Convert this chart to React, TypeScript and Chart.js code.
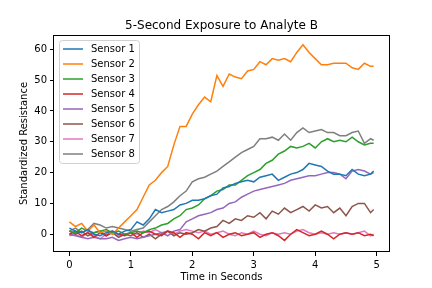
import { useEffect, useRef } from "react";
import { Chart, registerables } from "chart.js";

Chart.register(...registerables);

const TITLE = "5-Second Exposure to Analyte B";
const X_LABEL = "Time in Seconds";
const Y_LABEL = "Standardized Resistance";
const X_TICKS = [0, 1, 2, 3, 4, 5];
const Y_TICKS = [0, 10, 20, 30, 40, 50, 60];

const TIMES = [
  0, 0.1, 0.2, 0.3, 0.4, 0.5, 0.6, 0.7, 0.8, 0.9,
  1.0, 1.1, 1.2, 1.3, 1.4, 1.5, 1.6, 1.7, 1.8, 1.9,
  2.0, 2.1, 2.2, 2.3, 2.4, 2.5, 2.6, 2.7, 2.8, 2.9,
  3.0, 3.1, 3.2, 3.3, 3.4, 3.5, 3.6, 3.7, 3.8, 3.9,
  4.0, 4.1, 4.2, 4.3, 4.4, 4.5, 4.6, 4.7, 4.8, 4.9, 4.95,
];

const SENSOR_1 = [
  2, 1, 0.5, 1.5, 0, -0.5, 0.5, 1, 0, 1,
  1.5, 4, 3, 5, 8, 7, 7.5, 8, 9.5, 10,
  11, 11, 11.5, 12.5, 13, 15, 15.5, 16.5, 17, 17.5,
  17, 18.5, 19, 19.5, 17.5, 18.5, 19.5, 20, 21, 23,
  22.5, 22, 20.5, 19.5, 19.5, 19, 21, 19.5, 19, 19.5, 20.5,
];
const SENSOR_2 = [
  4, 2.5, 3.5, 1, 3, 0.5, 1, 0, 2, 4,
  6, 8, 12, 16, 17.5, 20, 22, 29, 35, 35,
  39, 42, 44.5, 43, 51.5, 48, 52, 51, 50.5, 53,
  53.5, 56, 55, 57, 56.5, 57, 56, 59, 61.5, 59,
  57, 55, 55, 55.5, 55.5, 55.5, 54, 53.5, 55.5, 54.5, 54.5,
];
const SENSOR_3 = [
  1, 0.5, 2, 1, 0.5, 1, 1.5, 0.5, 1, 0,
  0.5, 1, 0.5, 1.5, 2, 3, 3.5, 5, 6, 8,
  8.5, 9.5, 11.5, 12.5, 14, 14.5, 16, 16, 17.5, 19,
  20, 21, 23, 24, 26, 27, 28.5, 28, 28.5, 29.5,
  28, 30, 31, 30, 30.5, 30, 31.5, 30, 29, 29.5, 29.5,
];
const SENSOR_4 = [
  0, 1, -0.5, 0.5, -1, 0.5, -0.5, 1, 0, -0.5,
  0.5, -1, 0.5, 1, 0, -0.5, 1, 0.5, -1, 0.5,
  0, -1.5, 0.5, -0.5, 0.5, -1, 0, 0.5, -0.5, 0,
  0.5, -1, 0, 0.5, -0.5, -2, 0, 1.5, 0.5, -0.5,
  0, 1, 0, -1.5, 0, 0.5, 0, 0.5, -0.5, 0, -0.5,
];
const SENSOR_5 = [
  0, -0.5, -1, -1.5, -1, -1.5, -1.5, -1, -2, -1.5,
  -1, -1.5, -1, -0.5, 0, 0.5, -0.5, 1, 1.5, 4,
  5, 6, 6.5, 7, 8, 8.5, 10, 10.5, 12, 13,
  14, 14.5, 15, 15.5, 16, 16.5, 17.5, 18, 18.5, 19,
  19, 19.5, 20, 20, 19.5, 18, 20.5, 21, 20.5, 19.5, 20,
];
const SENSOR_6 = [
  1, 0, 1, -0.5, 0.5, 1, -0.5, 0.5, -1, 0,
  -0.5, 0.5, -1, 0, -1.5, 0, 1, -0.5, 0.5, 0,
  0.5, 1.5, 1, 2, 2.5, 4.5, 3.5, 5, 4.5, 6,
  5.5, 7, 5, 7.5, 6.5, 8.5, 7, 8, 9, 7.5,
  9.5, 8.5, 9, 7, 8.5, 6, 9, 10, 10, 7, 8,
];
const SENSOR_7 = [
  -0.5, 0, -1, 0.5, -0.5, -1.5, 0, 0.5, -0.5, 0,
  0.5, 0, 1, 0.5, 1.5, 0.5, 1, 0, 1, 1.5,
  1, 0.5, 1, 0, 0.5, 1, 0, -0.5, 0.5, 0,
  1, 0, -0.5, 0.5, 0, 0.5, 0, 1, 1.5, 0.5,
  0, 0.5, 0, 0.5, 0, 0.5, 0, 0.5, 1, -0.5, 0,
];
const SENSOR_8 = [
  1, 2, 0.5, 1.5, 3.5, 3, 2, 2.5, 2, 1.5,
  1, 1.5, 2, 4, 6, 8, 9, 10.5, 12.5, 14,
  17, 18, 18.5, 19.5, 20.5, 22, 23.5, 25, 26.5, 27.5,
  28.5, 31, 31, 31.5, 30.5, 32.5, 30.5, 33, 34.5, 33,
  33.5, 34, 33, 33, 32, 32, 33, 33.5, 29.5, 31, 30.5,
];

const SENSOR_NAMES = [
  "Sensor 1", "Sensor 2", "Sensor 3", "Sensor 4",
  "Sensor 5", "Sensor 6", "Sensor 7", "Sensor 8",
];
const SENSOR_VALUES = [SENSOR_1, SENSOR_2, SENSOR_3, SENSOR_4, SENSOR_5, SENSOR_6, SENSOR_7, SENSOR_8];
const COLORS = ["#1f77b4", "#ff7f0e", "#2ca02c", "#d62728", "#9467bd", "#8c564b", "#e377c2", "#7f7f7f"];

const FONT = "'DejaVu Sans', sans-serif";

const framePlugin = {
  id: "frameTitleLegend",
  afterDraw(chart: any) {
    const { ctx, chartArea } = chart;
    const { left, right, top, bottom } = chartArea;
    ctx.save();
    // spines
    ctx.strokeStyle = "#000";
    ctx.lineWidth = 1;
    ctx.strokeRect(Math.round(left) - 0.5, Math.round(top) + 0.5, Math.round(right - left) + 1, Math.round(bottom - top) - 1);
    // title
    ctx.fillStyle = "#000";
    ctx.font = `12px ${FONT}`;
    ctx.textAlign = "center";
    ctx.textBaseline = "alphabetic";
    ctx.fillText(TITLE, (left + right) / 2, top - 6.5);
    // legend
    const bx = left + 5.5;
    const by = top + 5.5;
    const bw = 80;
    const bh = 123;
    ctx.beginPath();
    ctx.roundRect(bx, by, bw, bh, 3);
    ctx.fillStyle = "rgba(255,255,255,0.8)";
    ctx.fill();
    ctx.strokeStyle = "#d0d0d0";
    ctx.lineWidth = 1;
    ctx.stroke();
    ctx.font = `10px ${FONT}`;
    ctx.textAlign = "left";
    ctx.textBaseline = "middle";
    chart.data.datasets.forEach((ds: any, i: number) => {
      const y = by + 8.5 + i * 15;
      ctx.strokeStyle = ds.borderColor;
      ctx.lineWidth = 1.5;
      ctx.beginPath();
      ctx.moveTo(bx + 3.5, y);
      ctx.lineTo(bx + 23.5, y);
      ctx.stroke();
      ctx.fillStyle = "#000";
      ctx.fillText(ds.label, bx + 31.5, y + 0.5);
    });
    ctx.restore();
  },
};

export default function App() {
  const ref = useRef<HTMLCanvasElement | null>(null);
  useEffect(() => {
    if (!ref.current) return;
    const chart = new Chart(ref.current, {
      type: "line",
      data: {
        datasets: SENSOR_NAMES.map((name, i) => ({
          label: name,
          data: TIMES.map((t, j) => ({ x: t, y: SENSOR_VALUES[i][j] })),
          borderColor: COLORS[i],
          backgroundColor: COLORS[i],
          borderWidth: 1.5,
          pointRadius: 0,
          tension: 0,
          fill: false,
        })),
      },
      options: {
        responsive: false,
        animation: false,
        events: [],
        layout: { padding: { left: 0, top: 35, right: 43, bottom: 0 } },
        plugins: {
          legend: { display: false },
          title: { display: false },
          tooltip: { enabled: false },
        },
        scales: {
          x: {
            type: "linear",
            min: -0.25,
            max: 5.2,
            afterBuildTicks: (axis: any) => {
              axis.ticks = X_TICKS.map((v) => ({ value: v }));
            },
            afterFit: (s: any) => {
              s.height = 36;
            },
            grid: { display: true, drawOnChartArea: false, drawTicks: true, tickLength: 4, color: "#000", lineWidth: 1 },
            border: { display: false },
            ticks: { color: "#000", font: { family: FONT, size: 10 }, padding: 3, maxRotation: 0, autoSkip: false },
            title: { display: true, text: X_LABEL, color: "#000", font: { family: FONT, size: 10 }, padding: { top: 0, bottom: 5 } },
          },
          y: {
            type: "linear",
            min: -5.77,
            max: 64.66,
            afterBuildTicks: (axis: any) => {
              axis.ticks = Y_TICKS.map((v) => ({ value: v }));
            },
            afterFit: (s: any) => {
              s.width = 54;
            },
            grid: { display: true, drawOnChartArea: false, drawTicks: true, tickLength: 4, color: "#000", lineWidth: 1 },
            border: { display: false },
            ticks: { color: "#000", font: { family: FONT, size: 10 }, padding: 3, autoSkip: false },
            title: { display: true, text: Y_LABEL, color: "#000", font: { family: FONT, size: 10 }, padding: { top: 18, bottom: 0 } },
          },
        },
      },
      plugins: [framePlugin],
    } as any);
    return () => chart.destroy();
  }, []);
  return (
    <div style={{ position: "absolute", left: 0, top: 0, width: 432, height: 288, background: "#fff" }}>
      <canvas ref={ref} width={432} height={288} style={{ display: "block", width: 432, height: 288 }} />
    </div>
  );
}
